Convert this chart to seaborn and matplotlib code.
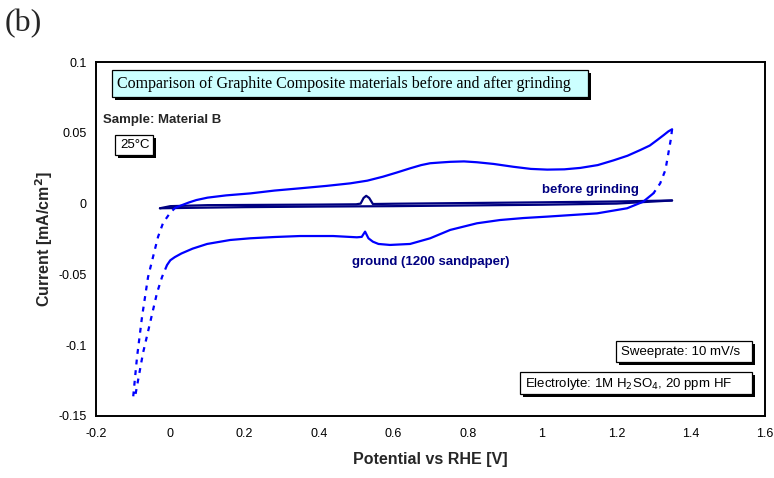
import matplotlib
matplotlib.use("Agg")
import matplotlib.pyplot as plt
from matplotlib.patches import Rectangle
from matplotlib.ticker import FixedLocator, FuncFormatter
import seaborn as sns

# --- Cyclic voltammetry data (potential in V vs RHE, current in mA/cm^2) ---
# Ground sample (1200 sandpaper): anodic sweep, upper solid branch
ground_up_x = [0.013, 0.03, 0.05, 0.07, 0.1, 0.15, 0.215, 0.28, 0.349, 0.42, 0.484, 0.53,
               0.572, 0.61, 0.645, 0.675, 0.699, 0.725, 0.753, 0.79, 0.825, 0.87,
               0.923, 0.97, 1.014, 1.06, 1.103, 1.15, 1.192, 1.23, 1.265, 1.29,
               1.31, 1.328, 1.34, 1.35]
ground_up_y = [-0.003, -0.0012, 0.0008, 0.0025, 0.0042, 0.0058, 0.0072, 0.0092, 0.0108, 0.0125, 0.0143, 0.0162,
               0.019, 0.022, 0.0249, 0.0272, 0.0285, 0.029, 0.0295, 0.0298, 0.0292, 0.028,
               0.026, 0.0245, 0.024, 0.0242, 0.0252, 0.0272, 0.0305, 0.0338, 0.0379, 0.041,
               0.0449, 0.0485, 0.051, 0.0525]
# Ground sample: reversal at the anodic limit (dashed)
ground_turn_x = [1.35, 1.347, 1.340, 1.332, 1.318, 1.30]
ground_turn_y = [0.0525, 0.046, 0.0355, 0.0237, 0.0143, 0.0073]
# Ground sample: cathodic sweep, lower solid branch
ground_down_x = [1.30, 1.272, 1.229, 1.148, 1.014, 0.95, 0.887, 0.825, 0.753, 0.699,
                 0.645, 0.591, 0.56, 0.545, 0.533, 0.524, 0.515, 0.502, 0.438, 0.349,
                 0.28, 0.215, 0.161, 0.099, 0.06, 0.03, 0.012, 0.0, -0.0089]
ground_down_y = [0.0073, 0.0013, -0.0033, -0.0069, -0.0092, -0.0102, -0.0116, -0.0139, -0.0186, -0.0245,
                 -0.0285, -0.0292, -0.0285, -0.0269, -0.0245, -0.0198, -0.0235, -0.0238, -0.0229, -0.0229,
                 -0.0236, -0.0245, -0.0257, -0.0285, -0.0318, -0.0352, -0.0378, -0.0400, -0.0434]
# Ground sample: hydrogen region at the cathodic limit (dashed)
ground_h_x = [-0.0089, -0.0223, -0.0358, -0.0546, -0.0735, -0.095, -0.100, -0.0896,
              -0.0762, -0.060, -0.0466, -0.0331, -0.0196, -0.0008, 0.013]
ground_h_y = [-0.0434, -0.0518, -0.063, -0.0843, -0.1055, -0.1366, -0.1366, -0.1084,
              -0.0801, -0.0519, -0.0377, -0.0235, -0.0137, -0.0066, -0.003]

# Sample before grinding: anodic and cathodic sweeps
before_up_x = [-0.028, 0.0, 0.1, 0.25, 0.4, 0.5, 0.512, 0.52, 0.527, 0.535, 0.545,
               0.6, 0.8, 1.0, 1.2, 1.35]
before_up_y = [-0.0033, -0.0018, -0.0011, -0.0009, -0.0007, -0.0005, 0.0, 0.004, 0.0055, 0.004, -0.0003,
               -0.0001, 0.0004, 0.0009, 0.0015, 0.0022]
before_down_x = [1.35, 1.2, 1.0, 0.8, 0.6, 0.4, 0.2, 0.05, -0.028]
before_down_y = [0.0022, 0.0, -0.0008, -0.0013, -0.0018, -0.0021, -0.0025, -0.003, -0.0033]

x_ticks = [-0.2, 0.0, 0.2, 0.4, 0.6, 0.8, 1.0, 1.2, 1.4, 1.6]
y_ticks = [-0.15, -0.1, -0.05, 0.0, 0.05, 0.1]

W, H = 774, 478

sns.set_style("white")
plt.rcParams["font.family"] = ["Liberation Sans", "DejaVu Sans"]
plt.rcParams["axes.unicode_minus"] = False

fig = plt.figure(figsize=(W / 100, H / 100), dpi=100)
ax = fig.add_axes([96 / W, 1 - 416 / H, (765 - 96) / W, (416 - 62) / H])

BLUE = "#0000FF"
NAVY = "#000080"

def trace(xs, ys, color, dashed=False, lw=1.6):
    sns.lineplot(x=xs, y=ys, sort=False, estimator=None, color=color, lw=lw,
                 ax=ax, legend=False)
    line = ax.lines[-1]
    if dashed:
        line.set_dashes([2.2, 2.6])
    line.set_solid_capstyle("round")
    line.set_solid_joinstyle("round")

trace(before_down_x, before_down_y, NAVY, lw=1.6)
trace(before_up_x, before_up_y, NAVY, lw=1.6)
trace(ground_up_x, ground_up_y, BLUE)
trace(ground_turn_x, ground_turn_y, BLUE, dashed=True)
trace(ground_down_x, ground_down_y, BLUE)
trace(ground_h_x, ground_h_y, BLUE, dashed=True)

ax.set_xlim(-0.2, 1.6)
ax.set_ylim(-0.15, 0.1)
ax.xaxis.set_major_locator(FixedLocator(x_ticks))
ax.yaxis.set_major_locator(FixedLocator(y_ticks))

def fmt(v, _):
    s = f"{v:.2f}".rstrip("0").rstrip(".")
    return "0" if s in ("-0", "0") else s

ax.xaxis.set_major_formatter(FuncFormatter(fmt))
ax.yaxis.set_major_formatter(FuncFormatter(fmt))
ax.tick_params(axis="both", direction="inout", length=7, width=1.2,
               labelsize=9, colors="black", pad=3)
ax.tick_params(axis="x", pad=5)
for s in ax.spines.values():
    s.set_visible(True)
    s.set_color("black")
    s.set_linewidth(1.4)

ax.set_xlabel("Potential vs RHE [V]", fontsize=11.5, fontweight="bold", labelpad=9)
ax.set_ylabel("Current [mA/cm$^\\mathbf{2}$]", fontsize=11.5, fontweight="bold", labelpad=3)

# Panel letter
fig.text(5 / W, 1 - 9 / H, "(b)", fontsize=23, family="Liberation Serif", va="top", ha="left")

def framed(x0, y0, x1, y1, text, face="white", family=None, size=9.5, shadow=3):
    """Framed text box with a dark drop shadow, given by pixel corners from the top-left."""
    fx, fy = x0 / W, 1 - y1 / H
    fw, fh = (x1 - x0) / W, (y1 - y0) / H
    fig.patches.append(Rectangle((fx + shadow / W, fy - shadow / H), fw, fh,
                                 transform=fig.transFigure, fc="black", ec="none", zorder=5))
    fig.patches.append(Rectangle((fx, fy), fw, fh, transform=fig.transFigure,
                                 fc=face, ec="black", lw=0.9, zorder=6))
    kw = dict(fontsize=size, va="center", ha="left", zorder=7)
    if family:
        kw["family"] = family
    fig.text((x0 + 5) / W, 1 - ((y0 + y1) / 2 + 0.5) / H, text, color="black", **kw)

framed(112, 70, 588, 97, "Comparison of Graphite Composite materials before and after grinding",
       face="#CCFFFF", family="Liberation Serif", size=11.5)
fig.text(103 / W, 1 - 120 / H, "Sample: Material B", fontsize=9.5, fontweight="bold",
         va="center", ha="left")
framed(115, 135, 153, 155, "25°C", size=9.5)
framed(616, 341, 752, 362, "Sweeprate: 10 mV/s", size=9.5)
framed(520, 372, 752, 394, "Electrolyte: 1M H$_2$SO$_4$, 20 ppm HF", size=9.5)

ax.text(1.13, 0.0096, "before grinding", color=NAVY, fontsize=9.5, fontweight="bold",
        ha="center", va="center")
ax.text(0.702, -0.0412, "ground (1200 sandpaper)", color=NAVY, fontsize=9.5, fontweight="bold",
        ha="center", va="center")

fig.savefig("out.png", dpi=100)
